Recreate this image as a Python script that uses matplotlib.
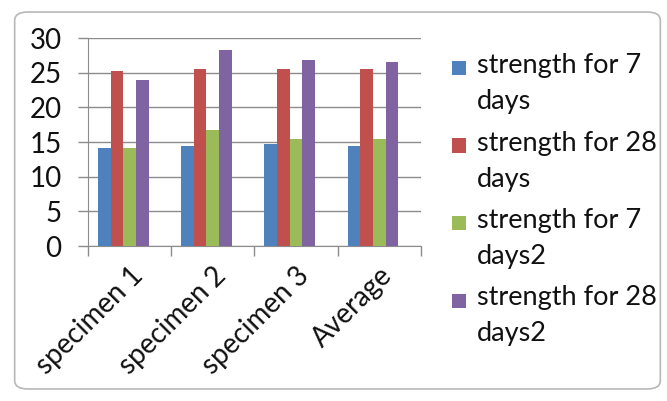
import numpy as np
import matplotlib
matplotlib.use("Agg")
import matplotlib.pyplot as plt
from matplotlib.patches import FancyBboxPatch, Rectangle

plt.rcParams['font.family'] = ['Lato', 'DejaVu Sans']

specimens = ["specimen 1", "specimen 2", "specimen 3", "Average"]
series_names = ["strength for 7 days", "strength for 28 days",
                "strength for 7 days2", "strength for 28 days2"]
strength_7 = [14.2, 14.5, 14.7, 14.5]
strength_28 = [25.2, 25.5, 25.6, 25.6]
strength_7b = [14.2, 16.7, 15.5, 15.5]
strength_28b = [24.0, 28.3, 26.9, 26.5]
colors = ["#4F81BD", "#C0504D", "#9BBB59", "#8064A2"]
yticks = [0, 5, 10, 15, 20, 25, 30]

W, H = 667, 401
fig = plt.figure(figsize=(W / 100, H / 100), dpi=100)

# rounded chart frame behind everything
frame = FancyBboxPatch((0.022, 0.03), 0.968, 0.94,
                       boxstyle="round,pad=0,rounding_size=0.02",
                       transform=fig.transFigure, facecolor="white",
                       edgecolor="#b8b8b8", linewidth=1.2, zorder=-5)
fig.patches.append(frame)

ax = fig.add_axes([0.132, 0.3865, 0.499, 0.5185])
ax.set_facecolor("none")

x = np.arange(len(specimens))
width = 0.152
shift = -0.077  # groups sit a little left of the category centre
all_series = [strength_7, strength_28, strength_7b, strength_28b]
for i, (vals, c) in enumerate(zip(all_series, colors)):
    ax.bar(x + shift + (i - 1.5) * width, vals, width, color=c, zorder=3)

ax.set_xlim(-0.5, len(specimens) - 0.5)
ax.set_ylim(0, 30)
ax.set_yticks(yticks)
ax.yaxis.grid(True, color="#8c8c8c", linewidth=1.0, zorder=0)

ax.set_xticks(np.arange(len(specimens) + 1) - 0.5)
ax.set_xticklabels([])
ax.set_xticks(x, minor=True)
ax.set_xticklabels(specimens, minor=True, rotation=45, ha="right",
                   rotation_mode="anchor", fontsize=20, color="#111111")
ax.tick_params(axis="x", which="minor", length=0, pad=12)
ax.tick_params(axis="x", which="major", length=7, color="#8c8c8c", width=1)
ax.tick_params(axis="y", length=7, color="#8c8c8c", width=1,
               labelsize=20, labelcolor="#111111", pad=12)

for side in ["top", "right"]:
    ax.spines[side].set_visible(False)
for side in ["left", "bottom"]:
    ax.spines[side].set_color("#8c8c8c")

# legend: square key beside the first line of each wrapped name
for i, (name, c) in enumerate(zip(series_names, colors)):
    label = name.replace(" days", "\ndays")
    y_top = 68 + i * 77.5
    fig.patches.append(Rectangle((452 / W, 1 - (y_top + 7) / H), 14 / W, 14 / H,
                                 transform=fig.transFigure, facecolor=c,
                                 edgecolor="none"))
    fig.text(477 / W, 1 - (y_top - 15) / H, label, ha="left", va="top",
             fontsize=19.5, linespacing=1.55, color="#111111")

fig.savefig("out.png", dpi=100)
